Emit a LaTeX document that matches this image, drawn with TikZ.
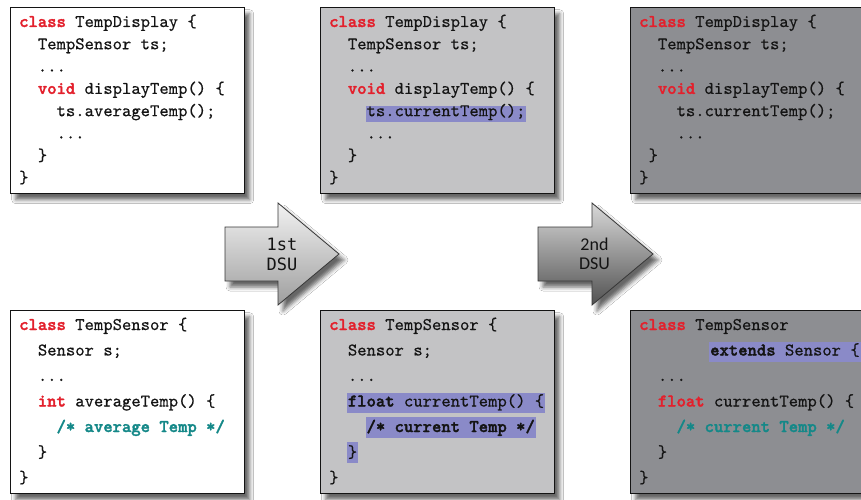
\documentclass[tikz,border=0pt]{standalone}
\usepackage{fontspec}
\usepackage{xcolor}
\usepackage{tikz}
\usetikzlibrary{calc,shadows.blur}
\setmonofont[Extension=.otf, UprightFeatures={FakeBold=0.5},
  BoldFont=lmmonolt10-bold, BoldFeatures={FakeBold=1.8}]{lmmono10-regular}
\definecolor{kwred}{HTML}{E3202C}
\definecolor{cmteal}{HTML}{148888}
\definecolor{hlblue}{HTML}{8A8AC8}
\definecolor{boxgrey}{HTML}{C3C3C5}
\definecolor{boxdark}{HTML}{8D8E92}
\definecolor{inkgray}{HTML}{141414}
\newfontfamily\dsumono{DejaVu Sans Mono}
\newfontfamily\dsusans{Carlito}
\newcommand{\kw}[1]{\textcolor{kwred}{\bfseries #1}}
\newcommand{\cmt}[1]{\textcolor{cmteal}{\bfseries #1}}

\begin{document}
\begin{tikzpicture}[
  x=1pt, y=-1pt,
  codebox/.style={draw=inkgray, line width=1.4pt, anchor=north west, minimum width=234pt, minimum height=186pt, inner sep=0pt,
    blur shadow={shadow xshift=5pt, shadow yshift=-6pt, shadow blur radius=4pt, shadow opacity=60}},
  code/.style={anchor=base west, inner sep=0pt, text=inkgray, font=\ttfamily\fontsize{17.8pt}{22pt}\selectfont},
  hl/.style={code, fill=hlblue, inner xsep=1pt, text height=13.5pt, text depth=6.5pt},
  dsu/.style={draw=inkgray!85, line width=0.8pt,
    blur shadow={shadow xshift=5pt, shadow yshift=-6pt, shadow blur radius=4pt, shadow opacity=60}},
  dsutext/.style={align=center, text=inkgray, inner sep=0pt}
]
\path[use as bounding box, fill=white] (0,0) rectangle (861,500);

% code boxes, before the update
\node[codebox, fill=white] (disp1) at (10,7) {};
\node[codebox, fill=white, minimum height=183pt] (sens1) at (10,310) {};
% after the 1st DSU
\node[codebox, fill=boxgrey] (disp2) at (320,7) {};
\node[codebox, fill=boxgrey, minimum height=183pt] (sens2) at (320,310) {};
% after the 2nd DSU
\node[codebox, fill=boxdark] (disp3) at (630,7) {};
\node[codebox, fill=boxdark, minimum height=183pt] (sens3) at (630,310) {};

% TempDisplay, version 1
\node[code] (disp1a) at ($(disp1.north west)+(9,20)$) {\kw{class} TempDisplay \{};
\node[code] (disp1b) at ($(disp1.north west)+(27.7,42.3)$) {TempSensor ts;};
\node[code] (disp1c) at ($(disp1.north west)+(27.7,64.6)$) {...};
\node[code] (disp1d) at ($(disp1.north west)+(27.7,86.9)$) {\kw{void} displayTemp() \{};
\node[code] (disp1e) at ($(disp1.north west)+(46.4,109.2)$) {ts.averageTemp();};
\node[code] (disp1f) at ($(disp1.north west)+(46.4,131.5)$) {...};
\node[code] (disp1g) at ($(disp1.north west)+(27.7,153.8)$) {\}};
\node[code] (disp1h) at ($(disp1.north west)+(9,176)$) {\}};

% TempDisplay, version 2
\node[code] (disp2a) at ($(disp2.north west)+(9,20)$) {\kw{class} TempDisplay \{};
\node[code] (disp2b) at ($(disp2.north west)+(27.7,42.3)$) {TempSensor ts;};
\node[code] (disp2c) at ($(disp2.north west)+(27.7,64.6)$) {...};
\node[code] (disp2d) at ($(disp2.north west)+(27.7,86.9)$) {\kw{void} displayTemp() \{};
\node[hl, text height=10pt, text depth=6pt] (disp2e) at ($(disp2.north west)+(45.4,109.2)$) {ts.currentTemp();\hspace{8pt}};
\node[code] (disp2f) at ($(disp2.north west)+(46.4,131.5)$) {...};
\node[code] (disp2g) at ($(disp2.north west)+(27.7,153.8)$) {\}};
\node[code] (disp2h) at ($(disp2.north west)+(9,176)$) {\}};

% TempDisplay, version 3
\node[code] (disp3a) at ($(disp3.north west)+(9,20)$) {\kw{class} TempDisplay \{};
\node[code] (disp3b) at ($(disp3.north west)+(27.7,42.3)$) {TempSensor ts;};
\node[code] (disp3c) at ($(disp3.north west)+(27.7,64.6)$) {...};
\node[code] (disp3d) at ($(disp3.north west)+(27.7,86.9)$) {\kw{void} displayTemp() \{};
\node[code] (disp3e) at ($(disp3.north west)+(46.4,109.2)$) {ts.currentTemp();};
\node[code] (disp3f) at ($(disp3.north west)+(46.4,131.5)$) {...};
\node[code] (disp3g) at ($(disp3.north west)+(18.4,153.8)$) {\}};
\node[code] (disp3h) at ($(disp3.north west)+(9,176)$) {\}};

% TempSensor, version 1
\node[code] (sens1a) at ($(sens1.north west)+(9,20)$) {\kw{class} TempSensor \{};
\node[code] (sens1b) at ($(sens1.north west)+(27.7,45.5)$) {Sensor s;};
\node[code] (sens1c) at ($(sens1.north west)+(27.7,71)$) {...};
\node[code] (sens1d) at ($(sens1.north west)+(27.7,96.5)$) {\kw{int} averageTemp() \{};
\node[code] (sens1e) at ($(sens1.north west)+(46.4,122)$) {\cmt{/* average Temp */}};
\node[code] (sens1f) at ($(sens1.north west)+(27.7,147.5)$) {\}};
\node[code] (sens1g) at ($(sens1.north west)+(9,173)$) {\}};

% TempSensor, version 2
\node[code] (sens2a) at ($(sens2.north west)+(9,20)$) {\kw{class} TempSensor \{};
\node[code] (sens2b) at ($(sens2.north west)+(27.7,45.5)$) {Sensor s;};
\node[code] (sens2c) at ($(sens2.north west)+(27.7,71)$) {...};
\node[hl] (sens2d) at ($(sens2.north west)+(26.7,96.5)$) {\textbf{float} currentTemp() \{\hspace{2pt}};
\node[hl, text height=15pt, text depth=6pt] (sens2e) at ($(sens2.north west)+(45.4,122)$) {\textbf{/* current Temp */}};
\node[hl, text height=15.5pt, text depth=5.5pt] (sens2f) at ($(sens2.north west)+(26.7,147.5)$) {\}};
\node[code] (sens2g) at ($(sens2.north west)+(9,173)$) {\}};

% TempSensor, version 3
\node[code] (sens3a) at ($(sens3.north west)+(9,20)$) {\kw{class} TempSensor};
\node[hl] (sens3b) at ($(sens3.north west)+(79,45.5)$) {\textbf{extends} Sensor \{\hspace{10pt}};
\node[code] (sens3c) at ($(sens3.north west)+(27.7,71)$) {...};
\node[code] (sens3d) at ($(sens3.north west)+(27.7,96.5)$) {\kw{float} currentTemp() \{};
\node[code] (sens3e) at ($(sens3.north west)+(46.4,122)$) {\cmt{/* current Temp */}};
\node[code] (sens3f) at ($(sens3.north west)+(27.7,147.5)$) {\}};
\node[code] (sens3g) at ($(sens3.north west)+(9,173)$) {\}};

% update arrows
\path[dsu, top color=white!95!black, bottom color=black!38]
  (225,227) -- (278,227) -- (278,203) -- (339,254) -- (278,305) -- (278,281) -- (225,281) -- cycle;
\node[dsutext, font=\dsumono\fontsize{17pt}{19.5pt}\selectfont] (dsu1) at (282,254.5) {1st\\DSU};
\path[dsu, top color=black!15, bottom color=black!68]
  (538,227) -- (592,227) -- (592,203) -- (653,254) -- (592,305) -- (592,281) -- (538,281) -- cycle;
\node[dsutext, font=\dsusans\fontsize{18pt}{19pt}\selectfont] (dsu2) at (594.5,254) {2nd\\DSU};
\end{tikzpicture}
\end{document}
